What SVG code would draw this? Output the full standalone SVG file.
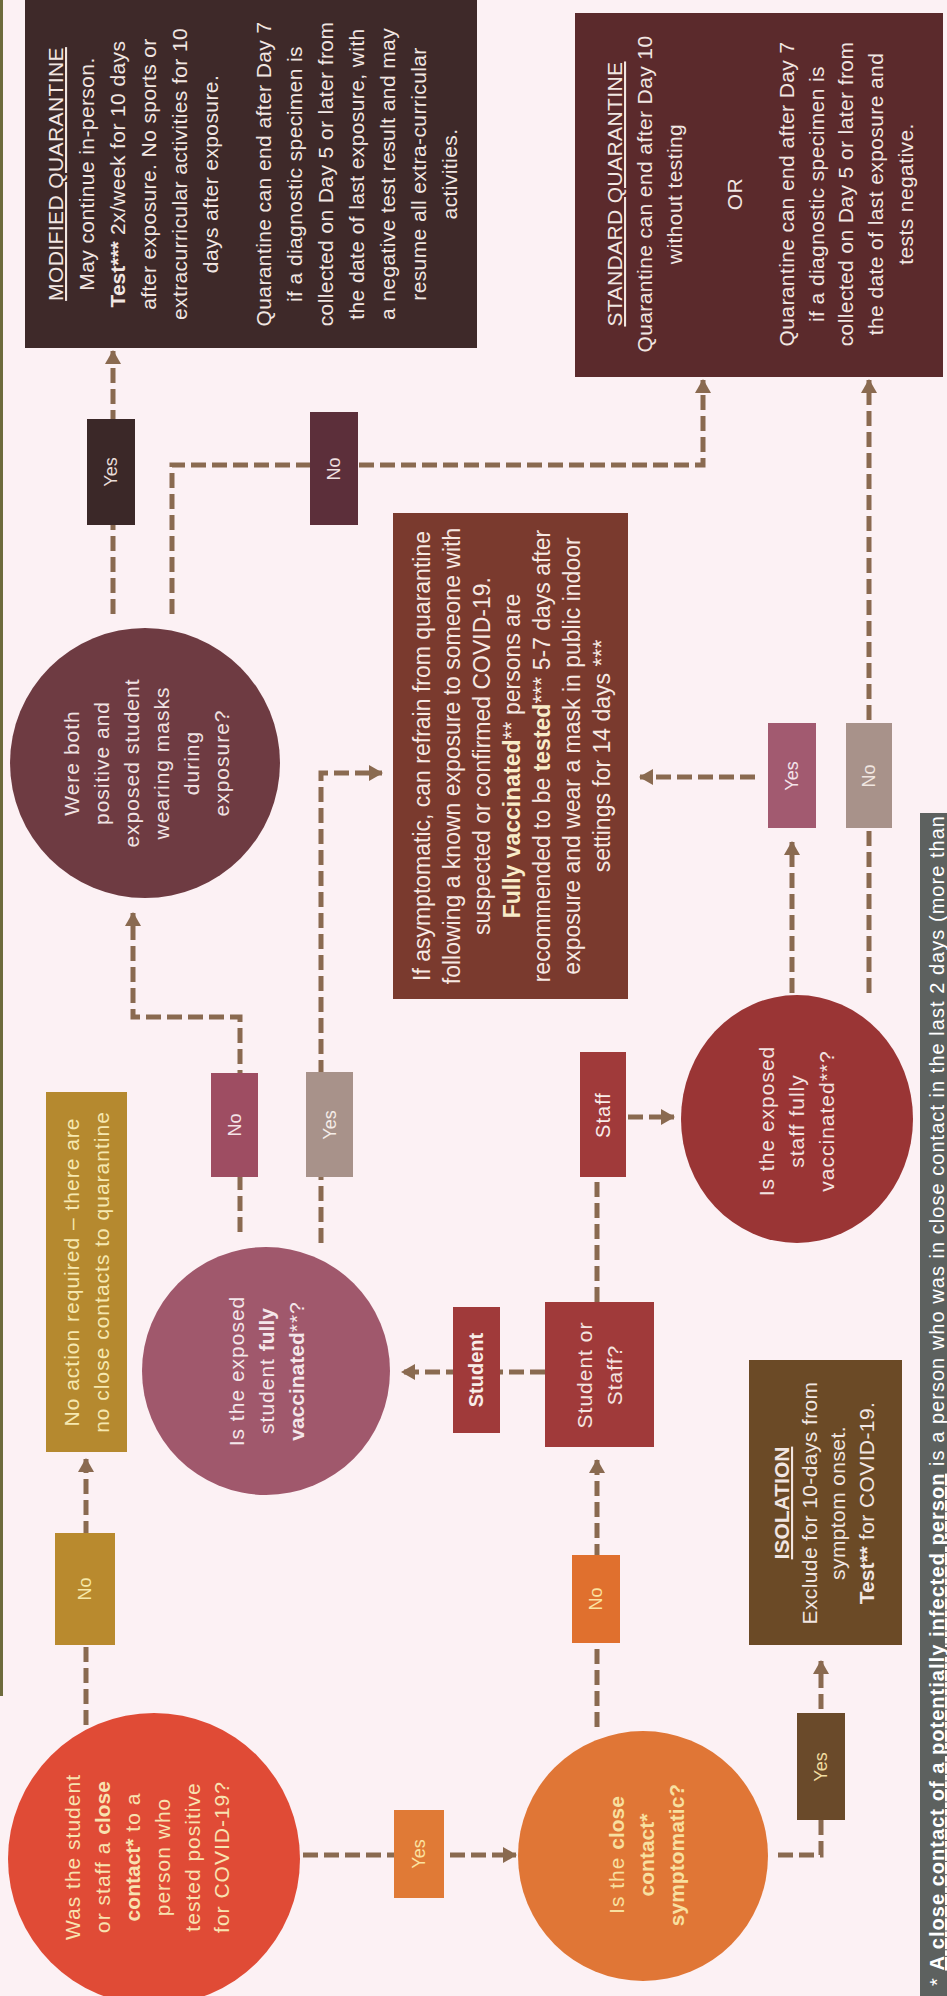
<svg xmlns="http://www.w3.org/2000/svg" width="947" height="1996" viewBox="0 0 947 1996">
<style>
.t{font-family:"Liberation Sans",Arial,sans-serif;text-anchor:middle}
.lt{font-size:21px;letter-spacing:0.4px;fill:#f1e6e2}
.ct{font-size:21px;letter-spacing:1px}
.bt{font-size:23px;fill:#f6e8e2}
.lb{font-size:18px}
.b{font-weight:bold;letter-spacing:0}
.u{text-decoration:underline}
.con{fill:none;stroke:#8a6a50;stroke-width:5;stroke-dasharray:15 6}
.arr{marker-end:url(#ah)}
</style>
<defs>
<marker id="ah" viewBox="0 0 14 16" refX="13" refY="8" markerWidth="14" markerHeight="16" markerUnits="userSpaceOnUse" orient="auto">
<path d="M0,0 L14,8 L0,16 z" fill="#8a6a50"/>
</marker>
</defs>
<rect width="947" height="1996" fill="#fcf1f4"/>
<g transform="matrix(0,-1,1,0,0,1996)">
<line x1="300" y1="1.5" x2="1996" y2="1.5" stroke="#6d6b3c" stroke-width="3"/>

<g id="connectors">
<path class="con arr" d="M1382,113 H1645"/>
<path class="con arr" d="M1382,172 H1531 V703 H1616"/>
<path class="con arr" d="M764,240 H979 V133 H1083"/>
<path class="con arr" d="M753,321 H1223 V382"/>
<path class="con arr" d="M624,545 V402"/>
<path class="con" d="M694,597 H819"/>
<path class="con arr" d="M879,628 V674"/>
<path class="con arr" d="M1003,792 H1154"/>
<path class="con arr" d="M1219,755 V640"/>
<path class="con arr" d="M1003,869 H1616"/>
<path class="con arr" d="M271,86 H537"/>
<path class="con arr" d="M141,303 V516"/>
<path class="con arr" d="M269,597 H536"/>
<path class="con arr" d="M141,778 V821 H335"/>
</g>

<g id="modified-quarantine">
<rect x="1648" y="25" width="350" height="452" fill="#3e2929"/>
<text class="t lt" x="1822" y="63"><tspan class="u">MODIFIED QUARANTINE</tspan></text>
<text class="t lt" x="1822" y="94">May continue in-person.</text>
<text class="t lt" x="1822" y="125"><tspan class="b">Test***</tspan> 2x/week for 10 days</text>
<text class="t lt" x="1822" y="156">after exposure. No sports or</text>
<text class="t lt" x="1822" y="187">extracurricular activities for 10</text>
<text class="t lt" x="1822" y="218">days after exposure.</text>
<text class="t lt" x="1822" y="271">Quarantine can end after Day 7</text>
<text class="t lt" x="1822" y="302">if a diagnostic specimen is</text>
<text class="t lt" x="1822" y="333">collected on Day 5 or later from</text>
<text class="t lt" x="1822" y="364">the date of last exposure, with</text>
<text class="t lt" x="1822" y="395">a negative test result and may</text>
<text class="t lt" x="1822" y="426">resume all extra-curricular</text>
<text class="t lt" x="1822" y="457">activities.</text>
</g>

<g id="standard-quarantine">
<rect x="1619" y="575" width="364" height="368" fill="#5b2a2c"/>
<text class="t lt" x="1802" y="622"><tspan class="u">STANDARD QUARANTINE</tspan></text>
<text class="t lt" x="1802" y="652">Quarantine can end after Day 10</text>
<text class="t lt" x="1802" y="682">without testing</text>
<text class="t lt" x="1802" y="742">OR</text>
<text class="t lt" x="1802" y="794">Quarantine can end after Day 7</text>
<text class="t lt" x="1802" y="824">if a diagnostic specimen is</text>
<text class="t lt" x="1802" y="853">collected on Day 5 or later from</text>
<text class="t lt" x="1802" y="883">the date of last exposure and</text>
<text class="t lt" x="1802" y="913">tests negative.</text>
</g>

<g id="masks-question">
<circle cx="1233" cy="145" r="135" fill="#6e3b42"/>
<text class="t ct" fill="#f0e2e2" x="1233" y="79">Were both</text>
<text class="t ct" fill="#f0e2e2" x="1233" y="109">positive and</text>
<text class="t ct" fill="#f0e2e2" x="1233" y="139">exposed student</text>
<text class="t ct" fill="#f0e2e2" x="1233" y="169">wearing masks</text>
<text class="t ct" fill="#f0e2e2" x="1233" y="199">during</text>
<text class="t ct" fill="#f0e2e2" x="1233" y="229">exposure?</text>
</g>

<g id="masks-yes">
<rect x="1471" y="87" width="106" height="48" fill="#3b2828"/>
<text class="t lb" fill="#e8dcd8" x="1524" y="117">Yes</text>
</g>
<g id="masks-no">
<rect x="1471" y="310" width="113" height="48" fill="#5c2f3a"/>
<text class="t lb" fill="#f0e0e0" x="1527" y="340">No</text>
</g>

<g id="vaccinated-info">
<rect x="997" y="393" width="486" height="235" fill="#7a3a2e"/>
<text class="t bt" x="1240" y="430">If asymptomatic, can refrain from quarantine</text>
<text class="t bt" x="1240" y="460">following a known exposure to someone with</text>
<text class="t bt" x="1240" y="490">suspected or confirmed COVID-19.</text>
<text class="t bt" x="1240" y="520"><tspan class="b" fill="#f8ebc8">Fully vaccinated</tspan>** persons are</text>
<text class="t bt" x="1240" y="550">recommended to be <tspan class="b" fill="#f8ebc8">tested</tspan>*** 5-7 days after</text>
<text class="t bt" x="1240" y="580">exposure and wear a mask in public indoor</text>
<text class="t bt" x="1240" y="610">settings for 14 days ***</text>
</g>

<g id="student-question">
<circle cx="625" cy="266" r="124" fill="#a0586c"/>
<text class="t ct" fill="#f4e6ea" x="625" y="244">Is the exposed</text>
<text class="t ct" fill="#f4e6ea" x="625" y="274">student <tspan class="b">fully</tspan></text>
<text class="t ct" fill="#f4e6ea" x="625" y="304"><tspan class="b">vaccinated</tspan>**?</text>
</g>
<g id="student-no">
<rect x="819" y="211" width="104" height="47" fill="#9e4d62"/>
<text class="t lb" fill="#f4e4e8" x="871" y="241">No</text>
</g>
<g id="student-yes">
<rect x="819" y="306" width="105" height="47" fill="#a8928a"/>
<text class="t lb" fill="#f4ece8" x="871" y="336">Yes</text>
</g>

<g id="no-action">
<rect x="544" y="46" width="360" height="81" fill="#b5892f"/>
<text class="t ct" fill="#f6e8b0" x="724" y="79">No action required – there are</text>
<text class="t ct" fill="#f6e8b0" x="724" y="109">no close contacts to quarantine</text>
</g>

<g id="student-or-staff">
<rect x="549" y="545" width="145" height="109" fill="#a03a3a"/>
<text class="t ct" fill="#f4e4e0" x="621" y="592">Student or</text>
<text class="t ct" fill="#f4e4e0" x="621" y="622">Staff?</text>
</g>
<g id="student">
<rect x="563" y="453" width="126" height="47" fill="#a03a3a"/>
<text class="t b" font-size="20" fill="#f8ece8" x="626" y="483">Student</text>
</g>
<g id="staff">
<rect x="819" y="580" width="125" height="46" fill="#a03a3a"/>
<text class="t" font-size="20" letter-spacing="1" fill="#f8ece8" x="881" y="610">Staff</text>
</g>

<g id="staff-question">
<ellipse cx="877" cy="797" rx="124" ry="116" fill="#9a3535"/>
<text class="t ct" fill="#f2e2e0" x="875" y="774">Is the exposed</text>
<text class="t ct" fill="#f2e2e0" x="875" y="804">staff fully</text>
<text class="t ct" fill="#f2e2e0" x="875" y="834">vaccinated**?</text>
</g>
<g id="staff-yes">
<rect x="1168" y="768" width="105" height="48" fill="#a25a70"/>
<text class="t lb" fill="#f3e3ea" x="1220" y="798">Yes</text>
</g>
<g id="staff-no">
<rect x="1168" y="846" width="105" height="46" fill="#a8928a"/>
<text class="t lb" fill="#f0e6e0" x="1220" y="875">No</text>
</g>

<g id="close-contact-question">
<circle cx="137" cy="154" r="146" fill="#e04b36"/>
<text class="t ct" fill="#f8e2b0" x="139" y="80">Was the student</text>
<text class="t ct" fill="#f8e2b0" x="139" y="110">or staff a <tspan class="b">close</tspan></text>
<text class="t ct" fill="#f8e2b0" x="139" y="140"><tspan class="b">contact*</tspan> to a</text>
<text class="t ct" fill="#f8e2b0" x="139" y="170">person who</text>
<text class="t ct" fill="#f8e2b0" x="139" y="200">tested positive</text>
<text class="t ct" fill="#f8e2b0" x="139" y="229">for COVID-19?</text>
</g>
<g id="close-contact-no">
<rect x="351" y="55" width="112" height="60" fill="#b98a2e"/>
<text class="t lb" fill="#f6e8a8" x="407" y="91">No</text>
</g>
<g id="close-contact-yes">
<rect x="98" y="394" width="88" height="50" fill="#e07a36"/>
<text class="t lb" fill="#fbe2a0" x="142" y="425">Yes</text>
</g>

<g id="symptomatic-question">
<circle cx="140" cy="643" r="125" fill="#e07636"/>
<text class="t ct" fill="#f8e0a0" x="141" y="624">Is the <tspan class="b">close</tspan></text>
<text class="t ct b" fill="#f8e0a0" x="141" y="654">contact*</text>
<text class="t ct b" fill="#f8e0a0" x="141" y="684">symptomatic?</text>
</g>
<g id="symptomatic-no">
<rect x="353" y="572" width="88" height="48" fill="#e0702e"/>
<text class="t lb" fill="#fbe2a0" x="397" y="602">No</text>
</g>
<g id="symptomatic-yes">
<rect x="176" y="797" width="107" height="48" fill="#6a4a2a"/>
<text class="t lb" fill="#f0dca0" x="229" y="827">Yes</text>
</g>

<g id="isolation">
<rect x="351" y="749" width="285" height="153" fill="#6b4a26"/>
<text class="t lt b u" fill="#f2e2b4" x="493" y="789">ISOLATION</text>
<text class="t lt" fill="#f2e2b4" x="493" y="817">Exclude for 10-days from</text>
<text class="t lt" fill="#f2e2b4" x="493" y="845">symptom onset.</text>
<text class="t lt" fill="#f2e2b4" x="493" y="874"><tspan class="b">Test**</tspan> for COVID-19.</text>
</g>

<g id="footnote">
<rect x="0" y="920" width="1183" height="30" fill="#5d615f"/>
<text x="10" y="944" font-family="Liberation Sans, Arial, sans-serif" font-size="20" fill="#ffffff" textLength="1170" lengthAdjust="spacing">* <tspan font-weight="bold" text-decoration="underline">A close contact of a potentially infected person</tspan> is a person who was in close contact in the last 2 days (more than</text>
</g>
</g>
</svg>
